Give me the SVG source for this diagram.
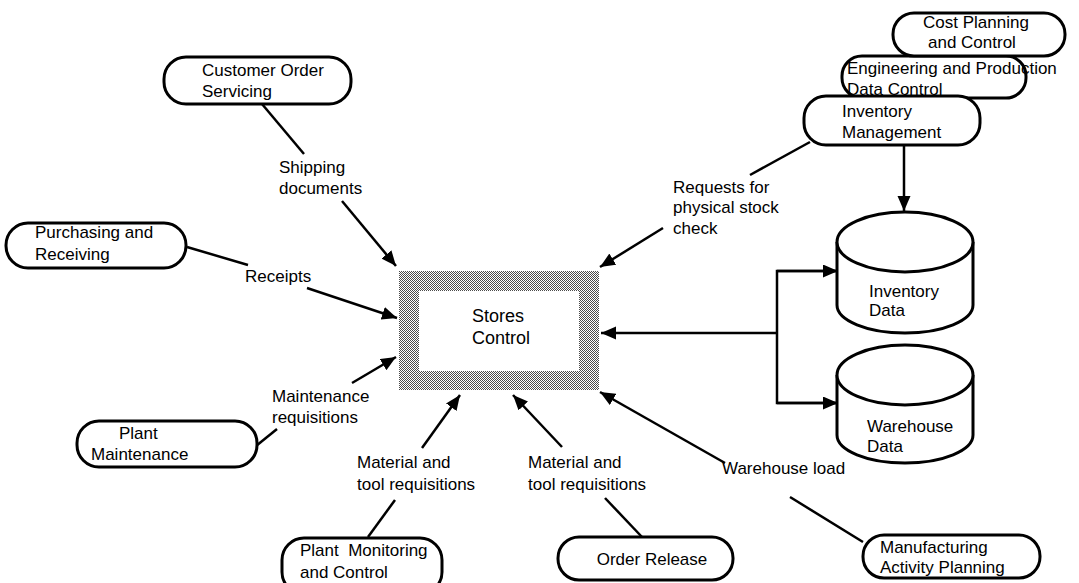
<svg xmlns="http://www.w3.org/2000/svg" width="1079" height="583" viewBox="0 0 1079 583">
  <defs>
    <pattern id="halftone" width="2" height="2" patternUnits="userSpaceOnUse">
      <rect width="2" height="2" fill="#ffffff"/>
      <rect x="0" y="0" width="1" height="1" fill="#4a4a4a"/>
      <rect x="1" y="1" width="1" height="1" fill="#4a4a4a"/>
    </pattern>
    <marker id="arrow" markerUnits="userSpaceOnUse" markerWidth="17" markerHeight="14" refX="15" refY="6.5" orient="auto">
      <path d="M0,0 L15,6.5 L0,13 Z" fill="#000"/>
    </marker>
  </defs>
  <style>
    .node { fill: #fff; stroke: #000; stroke-width: 3; }
    .conn { fill: none; stroke: #000; stroke-width: 2.5; }
    .arr { marker-end: url(#arrow); }
    text { font-family: "Liberation Sans", Arial, Helvetica, sans-serif; font-size: 17px; fill: #000; }
    .big { font-size: 18px; }
    .mid { text-anchor: middle; }
  </style>
  <rect width="1079" height="583" fill="#fff"/>

  <!-- flow lines and their labels -->
  <g id="connectors">
    <line class="conn" x1="262" y1="104" x2="304" y2="154"/>
    <line class="conn arr" x1="342" y1="201" x2="396" y2="266"/>
    <text x="279" y="173">Shipping</text>
    <text x="279" y="194">documents</text>

    <line class="conn" x1="187" y1="247" x2="248" y2="265"/>
    <line class="conn arr" x1="307" y1="288" x2="397" y2="318"/>
    <text x="245" y="282">Receipts</text>

    <line class="conn" x1="256" y1="446" x2="277" y2="429"/>
    <line class="conn arr" x1="352" y1="383" x2="396" y2="357"/>
    <text x="272" y="402">Maintenance</text>
    <text x="272" y="423">requisitions</text>

    <line class="conn" x1="368" y1="537" x2="395" y2="500"/>
    <line class="conn arr" x1="422" y1="448" x2="460" y2="395"/>
    <text x="357" y="468">Material and</text>
    <text x="357" y="490">tool requisitions</text>

    <line class="conn" x1="642" y1="537" x2="605" y2="498"/>
    <line class="conn arr" x1="562" y1="447" x2="513" y2="395"/>
    <text x="528" y="468">Material and</text>
    <text x="528" y="490">tool requisitions</text>

    <line class="conn" x1="863" y1="542" x2="790" y2="497"/>
    <line class="conn arr" x1="725" y1="463" x2="600" y2="392"/>
    <text x="722" y="474">Warehouse load</text>

    <line class="conn" x1="810" y1="142" x2="750" y2="175"/>
    <line class="conn arr" x1="663" y1="228" x2="600" y2="267"/>
    <text x="673" y="193">Requests for</text>
    <text x="673" y="213">physical stock</text>
    <text x="673" y="234">check</text>

    <line class="conn arr" x1="904" y1="145" x2="904" y2="211"/>

    <line class="conn arr" x1="777" y1="333" x2="601" y2="333"/>
    <polyline class="conn" points="836,271 777,271 777,403 836,403"/>
    <line class="conn arr" x1="777" y1="271" x2="838" y2="271"/>
    <line class="conn arr" x1="777" y1="403" x2="838" y2="403"/>
  </g>

  <!-- central process -->
  <g id="stores-control">
    <rect x="399" y="271" width="200" height="119" fill="url(#halftone)"/>
    <rect x="419" y="291" width="160" height="80" fill="#fff"/>
    <text class="big" x="472" y="322">Stores</text>
    <text class="big" x="472" y="344">Control</text>
  </g>

  <g id="customer-order-servicing">
    <rect class="node" x="164" y="57" width="187" height="47" rx="22"/>
    <text x="202" y="76">Customer Order</text>
    <text x="202" y="97">Servicing</text>
  </g>

  <g id="purchasing-receiving">
    <rect class="node" x="6" y="223" width="180" height="45" rx="22"/>
    <text x="35" y="238">Purchasing and</text>
    <text x="35" y="260">Receiving</text>
  </g>

  <g id="plant-maintenance">
    <rect class="node" x="77" y="421" width="180" height="46" rx="22"/>
    <text x="119" y="439">Plant</text>
    <text x="91" y="460">Maintenance</text>
  </g>

  <g id="plant-monitoring-control">
    <rect class="node" x="282" y="538" width="160" height="56" rx="22"/>
    <text x="300" y="556" xml:space="preserve">Plant  Monitoring</text>
    <text x="300" y="578">and Control</text>
  </g>

  <g id="order-release">
    <rect class="node" x="558" y="537" width="175" height="43" rx="21"/>
    <text class="mid" x="652" y="565">Order Release</text>
  </g>

  <g id="manufacturing-activity-planning">
    <rect class="node" x="863" y="535" width="177" height="43" rx="21"/>
    <text x="880" y="553">Manufacturing</text>
    <text x="880" y="573">Activity Planning</text>
  </g>

  <!-- stacked planning applications -->
  <g id="engineering-production-data-control">
    <rect class="node" x="842" y="56" width="184" height="42" rx="20"/>
  </g>
  <g id="cost-planning-control">
    <rect class="node" x="893" y="13" width="172" height="43" rx="21"/>
    <text x="923" y="28">Cost Planning</text>
    <text x="928" y="48">and Control</text>
  </g>
  <g id="inventory-management">
    <rect class="node" x="804" y="96" width="176" height="49" rx="22"/>
    <text x="842" y="117">Inventory</text>
    <text x="842" y="138">Management</text>
  </g>
  <g id="engineering-production-data-control-label">
    <text x="847" y="74">Engineering and Production</text>
    <text x="847" y="95">Data Control</text>
  </g>

  <!-- data stores -->
  <g id="inventory-data">
    <path class="node" d="M837,242 A68,30 0 0 1 973,242 L973,305 A68,28 0 0 1 837,305 Z"/>
    <path class="node" fill="none" d="M837,242 A68,30 0 0 0 973,242"/>
    <text x="869" y="297">Inventory</text>
    <text x="869" y="316">Data</text>
  </g>

  <g id="warehouse-data">
    <path class="node" d="M837,375 A68,30 0 0 1 973,375 L973,435 A68,28 0 0 1 837,435 Z"/>
    <path class="node" fill="none" d="M837,375 A68,30 0 0 0 973,375"/>
    <text x="867" y="432">Warehouse</text>
    <text x="867" y="452">Data</text>
  </g>
</svg>
